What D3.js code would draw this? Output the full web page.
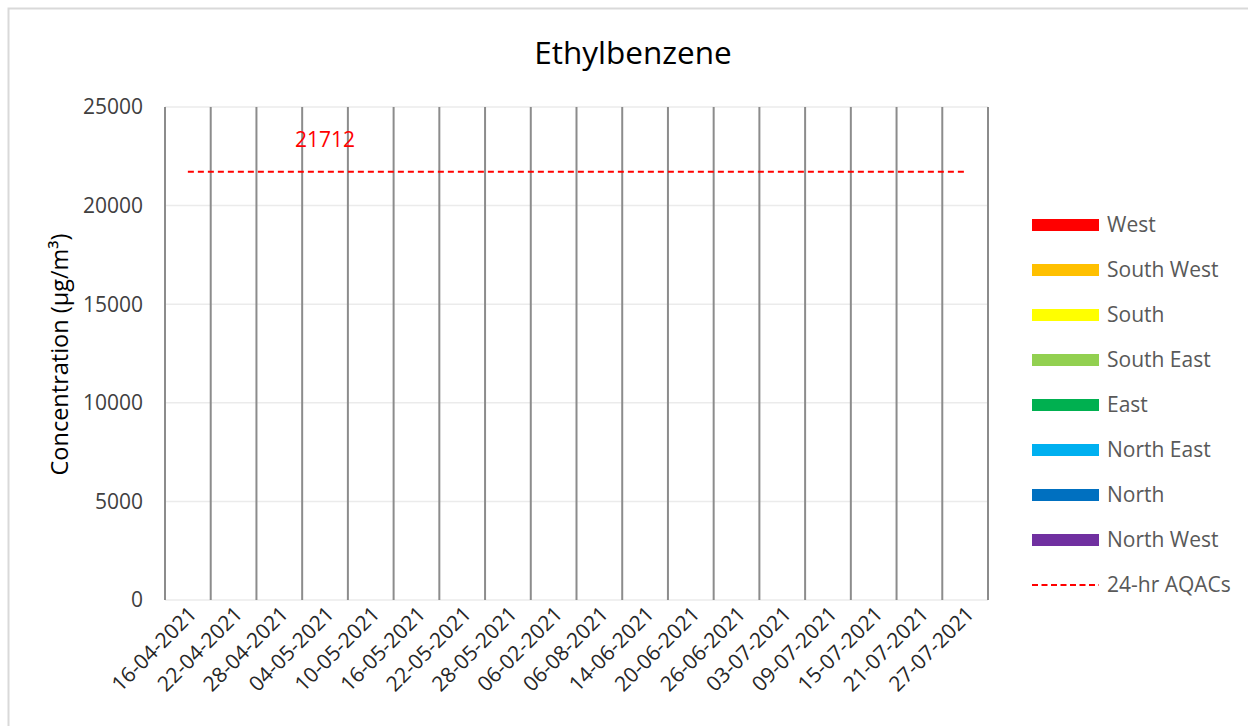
<!DOCTYPE html>
<html>
<head>
<meta charset="utf-8">
<script src="https://cdn.jsdelivr.net/npm/d3@7"></script>
<style>
  body { margin: 0; background: #fff; }
  text { font-family: "Open Sans", "Noto Sans", sans-serif; }
</style>
</head>
<body>
<div id="chart"></div>
<script>
// categories (sampling dates, as labelled on the chart)
var dates = ["16-04-2021", "22-04-2021", "28-04-2021", "04-05-2021", "10-05-2021", "16-05-2021",
    "22-05-2021", "28-05-2021", "06-02-2021", "06-08-2021", "14-06-2021", "20-06-2021",
    "26-06-2021", "03-07-2021", "09-07-2021", "15-07-2021", "21-07-2021", "27-07-2021"];

// wind direction series - no values plotted on this chart
var seriesNames = ["West", "South West", "South", "South East", "East", "North East", "North", "North West"];
var seriesColors = ["#ff0000", "#ffc000", "#ffff00", "#92d050", "#00b050", "#00b0f0", "#0070c0", "#7030a0"];
var seriesValues = [[], [], [], [], [], [], [], []];

// 24-hr AQAC limit
var aqac = [21712, 21712, 21712, 21712, 21712, 21712, 21712, 21712, 21712,
    21712, 21712, 21712, 21712, 21712, 21712, 21712, 21712, 21712];
var aqacLabelIndex = 3;

var yTicks = [0, 5000, 10000, 15000, 20000, 25000];

var W = 1248, H = 726;
var margin = { top: 107, left: 165, right: 260, bottom: 126 };
var width = 988 - margin.left,
    height = 600 - margin.top;

var svg = d3.select("#chart").append("svg")
    .attr("width", W)
    .attr("height", H);

// chart frame
svg.append("rect")
    .attr("x", 8.5).attr("y", 8.5)
    .attr("width", W + 20).attr("height", H + 20)
    .attr("fill", "#fff")
    .attr("stroke", "#d9d9d9")
    .attr("stroke-width", 2);

var g = svg.append("g")
    .attr("transform", "translate(" + margin.left + "," + margin.top + ")");

var x = d3.scaleBand().domain(dates).range([0, width]);
var y = d3.scaleLinear().domain([0, 25000]).range([height, 0]);

// horizontal gridlines
g.selectAll(".hgrid")
    .data(yTicks)
    .enter().append("line")
    .attr("x1", 0).attr("x2", width)
    .attr("y1", function (d) { return y(d) }).attr("y2", function (d) { return y(d) })
    .attr("stroke", "#ebebeb")
    .attr("stroke-width", 1.5);

// vertical dividers between dates
var bounds = dates.map(function (d) { return x(d) }).concat([width]);
g.selectAll(".vgrid")
    .data(bounds)
    .enter().append("line")
    .attr("x1", function (d) { return d }).attr("x2", function (d) { return d })
    .attr("y1", 0).attr("y2", height)
    .attr("stroke", "#8c8c8c")
    .attr("stroke-width", 2);

// series lines (empty)
seriesValues.forEach(function (vals, i) {
    g.append("path")
        .datum(vals)
        .attr("fill", "none")
        .attr("stroke", seriesColors[i])
        .attr("stroke-width", 3)
        .attr("d", d3.line()
            .x(function (d, j) { return x(dates[j]) + x.bandwidth() / 2 })
            .y(function (d) { return y(d) }));
});

// y axis labels
g.selectAll(".ylab")
    .data(yTicks)
    .enter().append("text")
    .attr("x", -22)
    .attr("y", function (d) { return y(d) })
    .attr("dy", "0.35em")
    .attr("text-anchor", "end")
    .attr("fill", "#404040")
    .style("font-size", "21px")
    .text(function (d) { return d });

// x axis labels
g.selectAll(".xlab")
    .data(dates)
    .enter().append("text")
    .attr("transform", function (d) {
        return "translate(" + (x(d) + x.bandwidth() / 2 + 5) + "," + (height + 10) + ") rotate(-45)";
    })
    .attr("text-anchor", "end")
    .attr("dy", "0.35em")
    .attr("fill", "#262626")
    .style("font-size", "21px")
    .text(function (d) { return d });

// AQAC dashed line
var aqacLine = d3.line()
    .x(function (d, i) { return x(dates[i]) + x.bandwidth() / 2 })
    .y(function (d) { return y(d) });
g.append("path")
    .datum(aqac)
    .attr("fill", "none")
    .attr("stroke", "#ff0000")
    .attr("stroke-width", 2)
    .attr("stroke-dasharray", "6,4")
    .attr("d", aqacLine);

g.append("text")
    .attr("x", x(dates[aqacLabelIndex]) + x.bandwidth() / 2)
    .attr("y", y(aqac[aqacLabelIndex]) - 32)
    .attr("text-anchor", "middle")
    .attr("dy", "0.35em")
    .attr("fill", "#ff0000")
    .style("font-size", "21px")
    .text(aqac[aqacLabelIndex]);

// title
svg.append("text")
    .attr("x", 633).attr("y", 53)
    .attr("text-anchor", "middle")
    .attr("dy", "0.35em")
    .attr("fill", "#000")
    .style("font-size", "31.5px")
    .text("Ethylbenzene");

// y axis title
svg.append("text")
    .attr("transform", "translate(60," + (margin.top + height / 2 + 1) + ") rotate(-90)")
    .attr("text-anchor", "middle")
    .attr("dy", "0.35em")
    .attr("fill", "#000")
    .style("font-size", "23.5px")
    .text("Concentration (μg/m³)");

// legend
var legendItems = seriesNames.map(function (n, i) { return { name: n, color: seriesColors[i], dash: false } })
    .concat([{ name: "24-hr AQACs", color: "#ff0000", dash: true }]);
var legend = svg.append("g").attr("transform", "translate(1032,225)");
var item = legend.selectAll(".item")
    .data(legendItems)
    .enter().append("g")
    .attr("transform", function (d, i) { return "translate(0," + (i * 45) + ")" });
item.filter(function (d) { return !d.dash }).append("rect")
    .attr("x", 0).attr("y", -6)
    .attr("width", 67).attr("height", 12)
    .attr("fill", function (d) { return d.color });
item.filter(function (d) { return d.dash }).append("line")
    .attr("x1", 0).attr("x2", 67)
    .attr("stroke", function (d) { return d.color })
    .attr("stroke-width", 2)
    .attr("stroke-dasharray", "6,3.5");
item.append("text")
    .attr("x", 75)
    .attr("dy", "0.35em")
    .attr("fill", "#595959")
    .style("font-size", "21px")
    .text(function (d) { return d.name });
</script>
</body>
</html>
